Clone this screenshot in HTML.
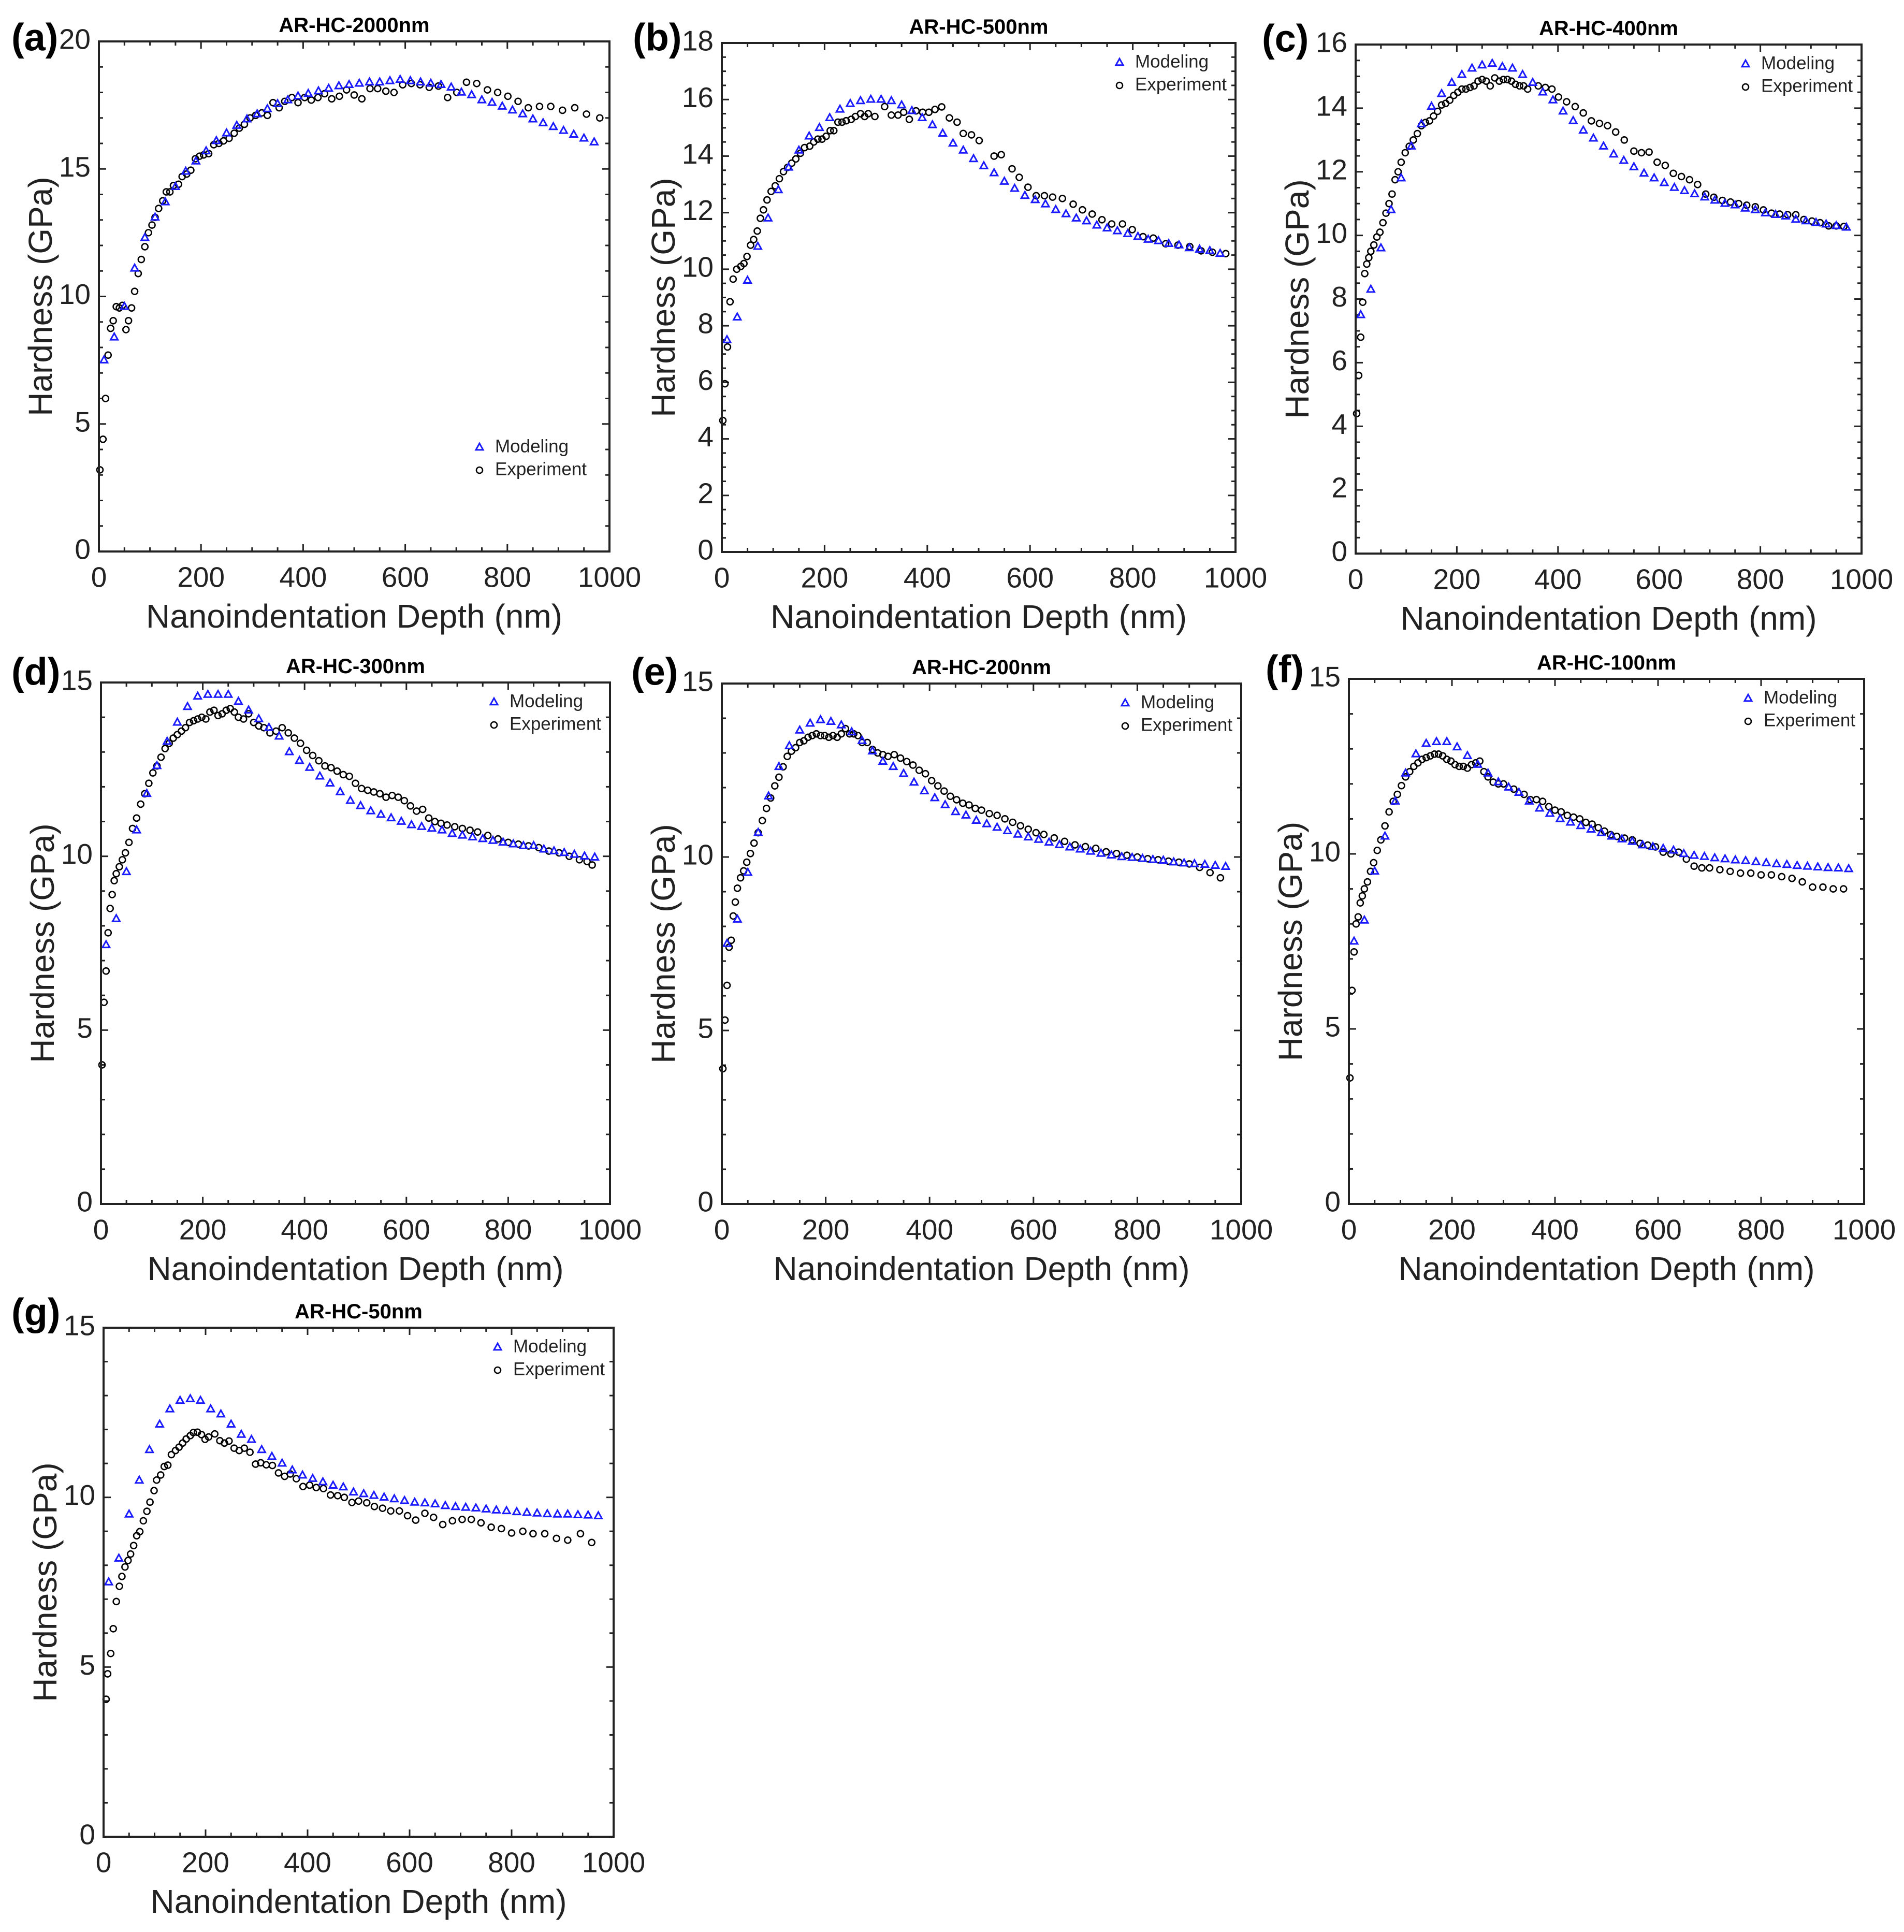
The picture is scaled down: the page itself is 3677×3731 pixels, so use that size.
<!DOCTYPE html>
<html><head><meta charset="utf-8">
<style>
html,body{margin:0;padding:0;background:#fff;}
svg{display:block;font-family:"Liberation Sans",Arial,sans-serif;}
</style></head>
<body>
<svg id="fig" width="3677" height="3731" viewBox="0 0 3677 3731" xmlns="http://www.w3.org/2000/svg"></svg>
<script>
// ---- shared modeling depths (nm) ----
const modelX = [10,30,50,70,90,110,130,150,170,190,210,230,250,270,290,310,330,350,370,390,410,430,450,470,490,510,530,550,570,590,610,630,650,670,690,710,730,750,770,790,810,830,850,870,890,910,930,950,970];

// ---- (a) AR-HC-2000nm ----
const aModelY = [7.5,8.4,9.6,11.1,12.3,13.1,13.7,14.3,14.9,15.3,15.7,16.1,16.4,16.7,16.95,17.15,17.35,17.55,17.7,17.85,17.95,18.05,18.15,18.25,18.3,18.35,18.4,18.4,18.45,18.5,18.45,18.4,18.35,18.3,18.2,18.0,17.9,17.7,17.6,17.45,17.3,17.15,16.95,16.8,16.65,16.5,16.35,16.2,16.05];
const aExpX = [2,8,13,18,23,28,34,40,46,53,58,64,70,77,83,90,97,104,110,117,125,132,139,146,156,163,172,180,189,197,205,215,225,235,244,255,265,275,285,296,307,319,330,341,353,364,378,390,403,416,429,442,456,471,485,500,515,531,546,562,578,595,612,629,647,665,683,701,720,740,761,781,801,821,841,863,885,908,932,955,981];
const aExpY = [3.2,4.4,6.0,7.7,8.75,9.05,9.6,9.55,9.65,8.7,9.05,9.55,10.2,10.9,11.45,11.95,12.5,12.8,13.1,13.45,13.75,14.1,14.1,14.35,14.4,14.7,14.8,14.95,15.4,15.5,15.55,15.6,15.95,16.0,16.1,16.2,16.4,16.6,16.75,17.0,17.1,17.2,17.1,17.6,17.4,17.65,17.8,17.6,17.8,17.7,17.8,17.95,17.75,17.85,18.1,17.9,17.75,18.15,18.15,18.05,18.0,18.3,18.35,18.3,18.2,18.25,17.8,18.0,18.4,18.35,18.1,18.0,17.85,17.65,17.4,17.45,17.45,17.3,17.4,17.15,17.0];

// ---- (b) AR-HC-500nm ----
const bModelY = [7.5,8.3,9.6,10.8,11.8,12.8,13.6,14.2,14.7,15.0,15.35,15.65,15.85,15.95,16.0,16.0,15.95,15.8,15.6,15.35,15.1,14.8,14.45,14.2,13.9,13.65,13.4,13.1,12.85,12.6,12.45,12.3,12.1,11.95,11.8,11.7,11.55,11.45,11.35,11.25,11.15,11.05,11.0,10.9,10.85,10.75,10.7,10.65,10.55];
const bExpX = [2,6,11,16,22,29,37,43,49,56,62,69,75,81,88,96,104,112,120,128,136,144,153,161,171,179,187,195,203,211,218,226,234,242,252,260,270,278,285,298,317,330,343,354,365,378,391,403,415,428,443,458,470,486,501,530,544,565,579,596,612,628,644,663,684,702,721,740,759,780,799,820,840,864,888,911,933,955,981];
const bExpY = [4.65,5.95,7.25,8.85,9.65,10.0,10.1,10.2,10.45,10.85,11.05,11.35,11.8,12.1,12.45,12.75,12.95,13.2,13.45,13.6,13.75,13.9,14.1,14.3,14.35,14.5,14.6,14.6,14.7,14.9,14.9,15.2,15.2,15.25,15.3,15.4,15.5,15.4,15.5,15.4,15.75,15.45,15.45,15.55,15.3,15.6,15.55,15.55,15.65,15.74,15.35,15.2,14.8,14.75,14.55,14.0,14.05,13.55,13.25,12.9,12.6,12.6,12.55,12.5,12.3,12.1,11.95,11.75,11.6,11.6,11.4,11.15,11.1,10.9,10.85,10.8,10.65,10.6,10.55];

// ---- (c) AR-HC-400nm ----
const cModelY = [7.5,8.3,9.6,10.8,11.8,12.8,13.5,14.05,14.45,14.8,15.05,15.25,15.35,15.4,15.3,15.25,15.05,14.8,14.5,14.25,13.9,13.6,13.3,13.05,12.8,12.55,12.35,12.15,11.95,11.8,11.65,11.5,11.4,11.3,11.2,11.1,11.0,10.95,10.85,10.8,10.7,10.65,10.6,10.5,10.45,10.4,10.35,10.3,10.25];
const cExpX = [2,6,10,14,18,22,26,30,36,42,48,54,60,66,72,78,84,90,98,106,114,122,130,138,146,154,162,170,178,186,194,202,210,218,226,234,242,250,258,266,275,284,292,300,308,316,324,332,340,361,375,388,401,417,434,450,466,482,498,514,531,550,565,580,596,612,628,644,660,676,692,708,725,741,757,773,790,806,822,838,854,870,886,902,918,935,950,965];
const cExpY = [4.4,5.6,6.8,7.9,8.8,9.1,9.3,9.5,9.7,9.95,10.1,10.4,10.7,11.0,11.3,11.75,12.0,12.3,12.6,12.8,13.0,13.2,13.45,13.55,13.6,13.75,13.9,14.1,14.15,14.25,14.4,14.5,14.6,14.6,14.65,14.7,14.85,14.9,14.85,14.7,14.95,14.85,14.9,14.9,14.85,14.75,14.7,14.7,14.6,14.7,14.65,14.6,14.35,14.2,14.05,13.85,13.6,13.52,13.45,13.25,13.0,12.65,12.6,12.62,12.3,12.2,11.95,11.85,11.75,11.6,11.3,11.2,11.1,11.05,11.0,10.95,10.9,10.8,10.7,10.67,10.65,10.65,10.5,10.45,10.4,10.3,10.3,10.28];

// ---- (d) AR-HC-300nm ----
const dModelY = [7.45,8.2,9.55,10.75,11.8,12.6,13.3,13.85,14.3,14.6,14.65,14.65,14.65,14.45,14.2,13.95,13.7,13.45,13.0,12.75,12.55,12.3,12.1,11.85,11.6,11.45,11.3,11.2,11.1,11.0,10.9,10.85,10.8,10.75,10.65,10.6,10.55,10.5,10.45,10.4,10.35,10.3,10.3,10.2,10.15,10.1,10.05,10.0,9.97];
const dExpX = [2,6,10,14,18,22,26,30,36,42,48,55,62,70,78,86,94,102,110,118,126,134,142,150,158,166,174,182,190,198,206,214,222,230,238,246,254,262,270,280,290,300,310,320,332,344,356,368,380,392,404,416,428,440,452,464,476,488,500,512,524,536,548,560,572,584,596,608,620,632,644,656,668,680,695,710,725,740,760,780,800,820,840,860,880,900,920,940,955,965];
const dExpY = [4.0,5.8,6.7,7.8,8.5,8.9,9.3,9.5,9.7,9.9,10.1,10.4,10.8,11.1,11.5,11.8,12.1,12.4,12.6,12.85,13.1,13.25,13.4,13.5,13.6,13.7,13.85,13.9,13.95,14.0,13.95,14.15,14.2,14.05,14.1,14.2,14.25,14.15,14.0,13.95,14.1,13.85,13.75,13.7,13.55,13.6,13.7,13.55,13.4,13.25,13.05,12.9,12.75,12.6,12.55,12.45,12.35,12.3,12.1,11.95,11.9,11.85,11.8,11.7,11.75,11.7,11.6,11.45,11.3,11.35,11.1,11.0,10.95,10.9,10.85,10.8,10.75,10.7,10.6,10.5,10.4,10.35,10.3,10.25,10.15,10.1,10.0,9.9,9.85,9.75];

// ---- (e) AR-HC-200nm ----
const eModelY = [7.5,8.2,9.55,10.7,11.75,12.6,13.2,13.65,13.85,13.95,13.9,13.8,13.6,13.35,13.05,12.75,12.6,12.4,12.15,11.9,11.7,11.5,11.3,11.2,11.05,10.95,10.85,10.75,10.65,10.57,10.5,10.42,10.35,10.28,10.22,10.16,10.1,10.05,10.0,9.98,9.95,9.92,9.9,9.85,9.82,9.8,9.78,9.75,9.72];
const eExpX = [2,6,10,14,18,22,26,30,36,42,48,55,62,70,78,86,94,102,110,118,126,134,142,150,158,166,174,182,190,198,206,214,222,230,238,246,254,262,270,280,290,300,310,320,332,344,356,368,380,392,404,416,428,440,452,464,476,488,500,515,530,545,560,575,590,605,620,640,660,680,700,720,740,760,780,800,820,840,860,880,900,920,940,960];
const eExpY = [3.9,5.3,6.3,7.4,7.6,8.3,8.7,9.1,9.4,9.6,9.85,10.1,10.4,10.7,11.05,11.4,11.7,12.05,12.3,12.6,12.9,13.05,13.15,13.3,13.35,13.45,13.5,13.55,13.5,13.5,13.45,13.5,13.45,13.55,13.7,13.55,13.55,13.5,13.3,13.3,13.1,13.0,12.95,12.9,12.95,12.85,12.75,12.65,12.5,12.4,12.2,12.05,11.9,11.75,11.65,11.55,11.5,11.4,11.35,11.25,11.2,11.1,11.0,10.9,10.8,10.7,10.65,10.55,10.45,10.35,10.3,10.25,10.15,10.1,10.05,10.0,9.95,9.92,9.88,9.85,9.8,9.7,9.55,9.4];

// ---- (f) AR-HC-100nm ----
const fModelY = [7.5,8.1,9.5,10.5,11.5,12.3,12.85,13.15,13.2,13.2,13.05,12.8,12.55,12.3,12.05,11.9,11.75,11.5,11.3,11.15,11.0,10.9,10.8,10.7,10.6,10.5,10.42,10.35,10.25,10.2,10.15,10.1,10.0,9.95,9.92,9.88,9.85,9.82,9.8,9.77,9.74,9.71,9.69,9.66,9.64,9.62,9.6,9.59,9.57];
const fExpX = [2,6,10,14,18,22,26,30,36,42,48,55,62,70,78,86,94,102,110,118,126,134,142,150,158,166,174,182,190,198,206,214,222,230,238,246,254,262,270,280,290,300,320,340,352,364,376,388,400,412,424,436,448,460,472,484,496,508,520,535,550,565,580,595,610,625,640,655,670,685,700,720,740,760,780,800,820,840,860,880,900,920,940,960];
const fExpY = [3.6,6.1,7.2,8.0,8.2,8.6,8.8,9.0,9.2,9.5,9.75,10.1,10.4,10.8,11.2,11.5,11.7,11.95,12.2,12.35,12.5,12.6,12.7,12.75,12.8,12.85,12.85,12.8,12.7,12.65,12.55,12.5,12.5,12.45,12.55,12.6,12.65,12.35,12.2,12.05,12.0,12.0,11.85,11.7,11.55,11.55,11.5,11.35,11.25,11.2,11.1,11.05,11.0,10.9,10.85,10.75,10.65,10.55,10.5,10.45,10.4,10.3,10.25,10.2,10.05,10.0,10.05,9.85,9.65,9.6,9.6,9.55,9.5,9.45,9.45,9.4,9.4,9.35,9.3,9.2,9.05,9.05,9.0,9.0];

// ---- (g) AR-HC-50nm ----
const gModelY = [7.5,8.2,9.5,10.5,11.4,12.15,12.6,12.85,12.9,12.85,12.6,12.45,12.15,11.85,11.7,11.4,11.2,11.0,10.8,10.65,10.55,10.45,10.35,10.3,10.15,10.1,10.05,10.0,9.95,9.9,9.85,9.83,9.8,9.75,9.72,9.7,9.68,9.65,9.62,9.6,9.57,9.55,9.53,9.51,9.5,9.5,9.48,9.47,9.45];
const gExpX = [5,8,14,19,25,31,36,42,48,53,59,65,71,78,85,91,99,104,112,119,126,133,141,148,155,162,170,176,184,192,199,206,218,228,237,246,256,266,276,287,298,308,319,331,343,355,366,378,391,404,417,431,445,459,472,487,500,516,531,547,563,580,596,612,630,647,665,684,703,721,740,760,780,800,822,842,865,888,910,935,957];
const gExpY = [4.05,4.8,5.4,6.13,6.93,7.38,7.67,7.95,8.14,8.33,8.58,8.87,8.99,9.31,9.59,9.86,10.2,10.51,10.66,10.91,10.95,11.26,11.38,11.48,11.6,11.72,11.82,11.91,11.92,11.85,11.71,11.78,11.87,11.67,11.6,11.66,11.45,11.38,11.45,11.33,10.98,11.02,10.96,10.94,10.72,10.62,10.69,10.55,10.32,10.36,10.29,10.26,10.07,10.05,10.0,9.85,9.89,9.84,9.73,9.68,9.6,9.6,9.46,9.33,9.53,9.41,9.2,9.31,9.35,9.35,9.25,9.12,9.08,8.95,9.0,8.93,8.93,8.79,8.74,8.93,8.67];

const xTickLabels = ["0","200","400","600","800","1000"];
const xTickValues = [0,200,400,600,800,1000];

const NS = "http://www.w3.org/2000/svg";
const svg = document.getElementById("fig");
function mk(tag, attrs, parent){
  const e = document.createElementNS(NS, tag);
  for (const k in attrs) e.setAttribute(k, attrs[k]);
  (parent||svg).appendChild(e);
  return e;
}

const panels = [
  {key:"a", letter:"(a)", lx:22, ly:78, title:"AR-HC-2000nm", L:191,R:1177,T:80,B:1065, ymax:20, ystep:5, yminor:1, my:aModelY, ex:aExpX, ey:aExpY, leg:"br"},
  {key:"b", letter:"(b)", lx:1222, ly:78, title:"AR-HC-500nm", L:1394,R:2386,T:83,B:1066, ymax:18, ystep:2, yminor:0.5, my:bModelY, ex:bExpX, ey:bExpY, leg:"tr"},
  {key:"c", letter:"(c)", lx:2437, ly:80, title:"AR-HC-400nm", L:2618,R:3595,T:86,B:1069, ymax:16, ystep:2, yminor:0.5, my:cModelY, ex:cExpX, ey:cExpY, leg:"tr"},
  {key:"d", letter:"(d)", lx:22, ly:1303, title:"AR-HC-300nm", L:195,R:1178,T:1318,B:2325, ymax:15, ystep:5, yminor:1, my:dModelY, ex:dExpX, ey:dExpY, leg:"tr"},
  {key:"e", letter:"(e)", lx:1219, ly:1303, title:"AR-HC-200nm", L:1394,R:2397,T:1320,B:2325, ymax:15, ystep:5, yminor:1, my:eModelY, ex:eExpX, ey:eExpY, leg:"tr"},
  {key:"f", letter:"(f)", lx:2444, ly:1298, title:"AR-HC-100nm", L:2605,R:3600,T:1311,B:2325, ymax:15, ystep:5, yminor:1, my:fModelY, ex:fExpX, ey:fExpY, leg:"tr"},
  {key:"g", letter:"(g)", lx:22, ly:2540, title:"AR-HC-50nm", L:200,R:1185,T:2564,B:3547, ymax:15, ystep:5, yminor:1, my:gModelY, ex:gExpX, ey:gExpY, leg:"tr"}
];

function triPath(cx, cy, s){
  const h = s*0.9;
  return `M${cx},${cy-h*0.62} L${cx+s/2},${cy+h*0.38} L${cx-s/2},${cy+h*0.38} Z`;
}

panels.forEach(p => {
  const g = mk("g", {});
  
  
  const xs = v => p.L + (v/1000)*(p.R-p.L);
  const ys = v => p.B - (v/p.ymax)*(p.B-p.T);

  const lt = mk("text", {x:p.lx, y:p.ly, "font-size":74, "font-weight":"bold", "dominant-baseline":"middle", fill:"#000"}, g);
  lt.textContent = p.letter;
  
  

  const tt = mk("text", {x:(p.L+p.R)/2, y:p.T-18, "font-size":40, "font-weight":"bold", "text-anchor":"middle", fill:"#000"}, g);
  tt.textContent = p.title;
  
  

  const tickG = mk("g", {stroke:"#222", "stroke-width":3}, g);
  
  
  for (let v=0; v<=1000+1e-6; v+=50){
    const x = xs(v); const major = (v%200===0); const len = major?14:8;
    mk("line",{x1:x,y1:p.B,x2:x,y2:p.B-len},tickG);
    mk("line",{x1:x,y1:p.T,x2:x,y2:p.T+len},tickG);
  }
  const nMinor = Math.round(p.ymax/p.yminor);
  for (let i=0;i<=nMinor;i++){
    const v = i*p.yminor; const y = ys(v);
    const major = Math.abs(v/p.ystep - Math.round(v/p.ystep))<1e-6; const len = major?14:8;
    mk("line",{x1:p.L,y1:y,x2:p.L+len,y2:y},tickG);
    mk("line",{x1:p.R,y1:y,x2:p.R-len,y2:y},tickG);
  }

  xTickValues.forEach((v,i) => {
    const t = mk("text",{x:xs(v), y:p.B+54, "font-size":55, "text-anchor":"middle", "dominant-baseline":"middle", fill:"#222"}, g);
    t.textContent = xTickLabels[i];
    
    
  });
  for (let v=0; v<=p.ymax+1e-6; v+=p.ystep){
    const t = mk("text",{x:p.L-16, y:ys(v), "font-size":55, "text-anchor":"end", "dominant-baseline":"middle", fill:"#222"}, g);
    t.textContent = String(v);
    
    
  }

  const xt = mk("text",{x:(p.L+p.R)/2, y:p.B+130, "font-size":64, "text-anchor":"middle", "dominant-baseline":"middle", fill:"#222"}, g);
  xt.textContent = "Nanoindentation Depth (nm)";
  
  
  const cy = (p.T+p.B)/2, cx = p.L-108;
  const yt = mk("text",{x:cx, y:cy, "font-size":64, "text-anchor":"middle", "dominant-baseline":"middle", fill:"#222", transform:`rotate(-90 ${cx} ${cy})`}, g);
  yt.textContent = "Hardness (GPa)";
  
  

  const eg = mk("g",{fill:"none", stroke:"#000", "stroke-width":2.6}, g);
  
  
  p.ex.forEach((xv,i) => {
    const c = mk("circle",{cx:xs(xv), cy:ys(p.ey[i]), r:6}, eg);
    
    
  });
  const mg = mk("g",{fill:"none", stroke:"#1a1aff", "stroke-width":3}, g);
  
  
  modelX.forEach((xv,i) => {
    if (p.my[i]===undefined) return;
    const t = mk("path",{d:triPath(xs(xv), ys(p.my[i]), 14)}, mg);
    
    
  });

  const fr = mk("rect",{x:p.L, y:p.T, width:p.R-p.L, height:p.B-p.T, fill:"none", stroke:"#222", "stroke-width":4}, g);
  
  

  let mx, r1;
  if (p.leg==="br"){ mx = p.L + 735; r1 = p.T + 784; } else { mx = p.R - 224; r1 = p.T + 38; }
  const r2 = r1 + 44;
  const lg = mk("g",{}, g);
  
  
  const lm = mk("path",{d:triPath(mx, r1, 14), fill:"none", stroke:"#1a1aff", "stroke-width":3}, lg);
  
  
  const l1 = mk("text",{x:mx+30, y:r1, "font-size":35, "dominant-baseline":"middle", fill:"#222"}, lg);
  l1.textContent = "Modeling";
  
  
  const le = mk("circle",{cx:mx, cy:r2, r:6, fill:"none", stroke:"#000", "stroke-width":2.6}, lg);
  
  
  const l2 = mk("text",{x:mx+30, y:r2, "font-size":35, "dominant-baseline":"middle", fill:"#222"}, lg);
  l2.textContent = "Experiment";
  
  
});
</script>
</body></html>
